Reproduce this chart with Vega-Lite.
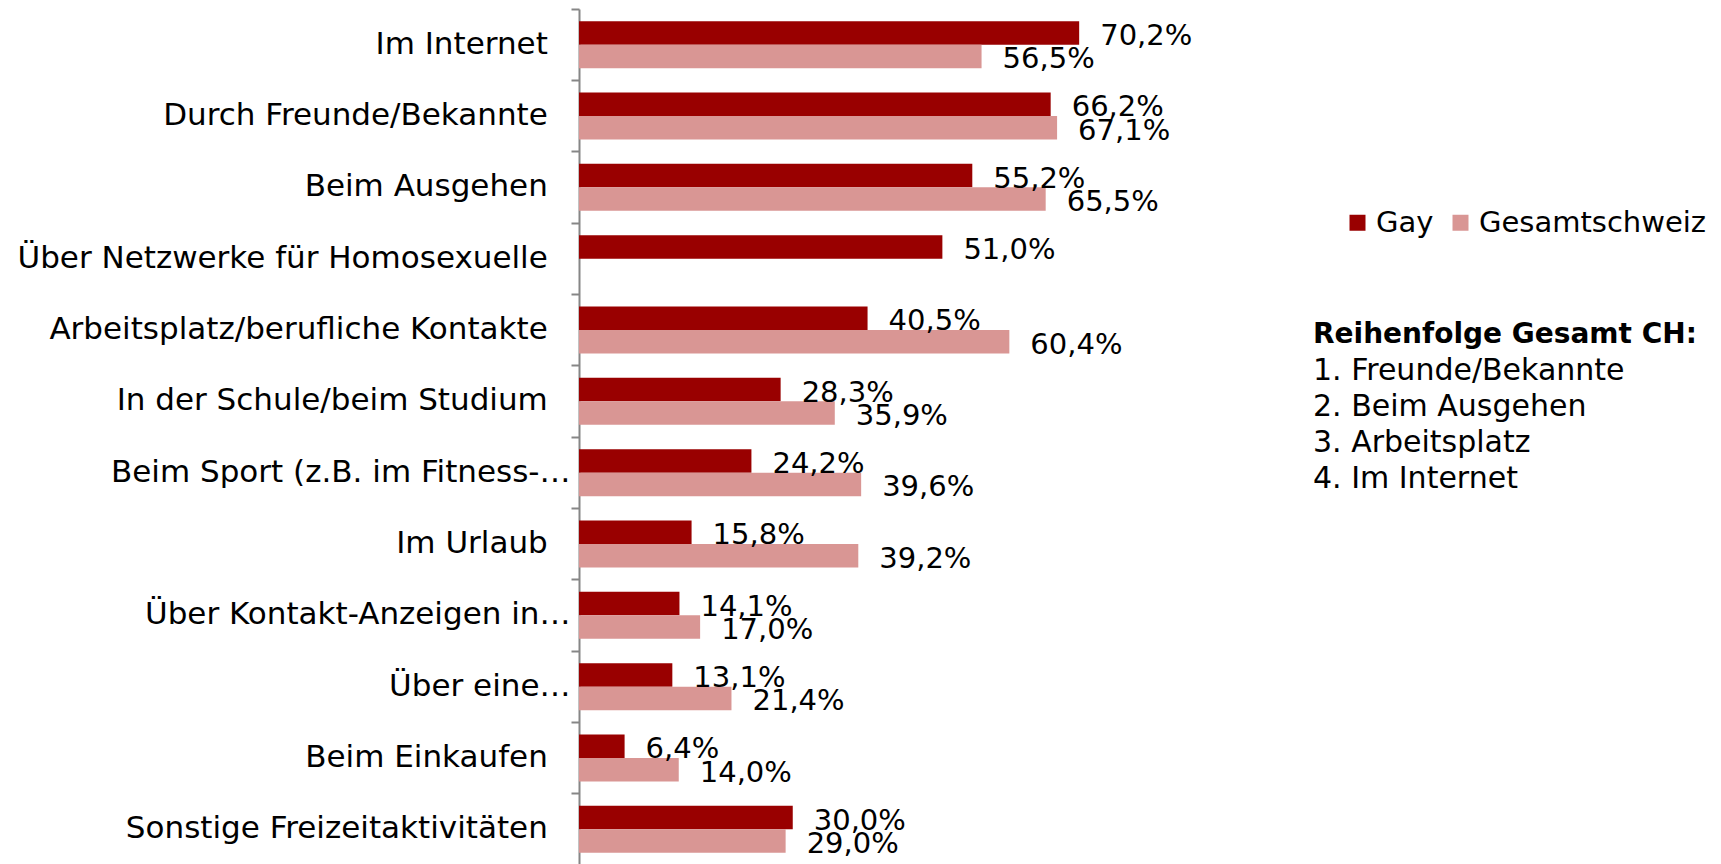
{
  "$schema": "https://vega.github.io/schema/vega-lite/v6.json",
  "padding": {"left": 16, "top": 8, "right": 0, "bottom": 0},
  "config": {
    "view": {"stroke": null},
    "font": "DejaVu Sans",
    "locale": {"number": {"decimal": ",", "thousands": ".", "grouping": [3], "currency": ["", ""]}}
  },
  "datasets": {
    "bars": [
      {"kategorie": "Im Internet", "gruppe": "Gay", "value": 0.702},
      {"kategorie": "Im Internet", "gruppe": "Gesamtschweiz", "value": 0.565},
      {"kategorie": "Durch Freunde/Bekannte", "gruppe": "Gay", "value": 0.662},
      {"kategorie": "Durch Freunde/Bekannte", "gruppe": "Gesamtschweiz", "value": 0.671},
      {"kategorie": "Beim Ausgehen", "gruppe": "Gay", "value": 0.552},
      {"kategorie": "Beim Ausgehen", "gruppe": "Gesamtschweiz", "value": 0.655},
      {"kategorie": "Über Netzwerke für Homosexuelle", "gruppe": "Gay", "value": 0.51},
      {"kategorie": "Arbeitsplatz/berufliche Kontakte", "gruppe": "Gay", "value": 0.405},
      {"kategorie": "Arbeitsplatz/berufliche Kontakte", "gruppe": "Gesamtschweiz", "value": 0.604},
      {"kategorie": "In der Schule/beim Studium", "gruppe": "Gay", "value": 0.283},
      {"kategorie": "In der Schule/beim Studium", "gruppe": "Gesamtschweiz", "value": 0.359},
      {"kategorie": "Beim Sport (z.B. im Fitness-\u2026", "gruppe": "Gay", "value": 0.242},
      {"kategorie": "Beim Sport (z.B. im Fitness-\u2026", "gruppe": "Gesamtschweiz", "value": 0.396},
      {"kategorie": "Im Urlaub", "gruppe": "Gay", "value": 0.158},
      {"kategorie": "Im Urlaub", "gruppe": "Gesamtschweiz", "value": 0.392},
      {"kategorie": "Über Kontakt-Anzeigen in\u2026", "gruppe": "Gay", "value": 0.141},
      {"kategorie": "Über Kontakt-Anzeigen in\u2026", "gruppe": "Gesamtschweiz", "value": 0.17},
      {"kategorie": "Über eine\u2026", "gruppe": "Gay", "value": 0.131},
      {"kategorie": "Über eine\u2026", "gruppe": "Gesamtschweiz", "value": 0.214},
      {"kategorie": "Beim Einkaufen", "gruppe": "Gay", "value": 0.064},
      {"kategorie": "Beim Einkaufen", "gruppe": "Gesamtschweiz", "value": 0.14},
      {"kategorie": "Sonstige Freizeitaktivitäten", "gruppe": "Gay", "value": 0.30},
      {"kategorie": "Sonstige Freizeitaktivitäten", "gruppe": "Gesamtschweiz", "value": 0.29}
    ],
    "ranking": [
      {"zeile": 0, "text": "Reihenfolge Gesamt CH:"},
      {"zeile": 1, "text": "1. Freunde/Bekannte"},
      {"zeile": 2, "text": "2. Beim Ausgehen"},
      {"zeile": 3, "text": "3. Arbeitsplatz"},
      {"zeile": 4, "text": "4. Im Internet"}
    ]
  },
  "spacing": 164,
  "bounds": "flush",
  "resolve": {"scale": {"y": "independent"}},
  "hconcat": [
    {
      "width": 570,
      "height": 856,
      "data": {"name": "bars"},
      "encoding": {
        "y": {
          "field": "kategorie",
          "type": "nominal",
          "sort": null,
          "scale": {"paddingInner": 0.34, "paddingOuter": 0.17},
          "axis": {
            "title": null,
            "grid": false,
            "labelFont": "DejaVu Sans",
            "labelFontSize": 31,
            "labelColor": "black",
            "labelLimit": 800,
            "labelPadding": 1,
            "labelExpr": "indexof(datum.label, '\u2026') >= 0 ? datum.label : datum.label + '\u2800'",
            "tickSize": 8,
            "tickWidth": 2,
            "tickColor": "#868686",
            "bandPosition": -0.257,
            "domainColor": "#868686",
            "domainWidth": 2
          }
        },
        "yOffset": {
          "field": "gruppe",
          "type": "nominal",
          "sort": ["Gay", "Gesamtschweiz"],
          "scale": {"paddingInner": 0, "paddingOuter": 0}
        },
        "x": {
          "field": "value",
          "type": "quantitative",
          "scale": {"domain": [0, 0.8], "nice": false},
          "axis": null
        }
      },
      "layer": [
        {
          "mark": {"type": "bar"},
          "encoding": {
            "color": {
              "field": "gruppe",
              "type": "nominal",
              "scale": {"domain": ["Gay", "Gesamtschweiz"], "range": ["#990000", "#D99694"]},
              "legend": {
                "title": null,
                "orient": "none",
                "direction": "horizontal",
                "legendX": 764,
                "legendY": 199,
                "padding": 0,
                "symbolType": "square",
                "symbolSize": 256,
                "symbolStrokeWidth": 0,
                "symbolOpacity": 1,
                "labelFont": "DejaVu Sans",
                "labelFontSize": 29,
                "labelColor": "black",
                "labelLimit": 400,
                "labelOffset": 4,
                "columnPadding": 12
              }
            }
          }
        },
        {
          "mark": {"type": "text", "align": "left", "baseline": "middle", "dx": 21, "dy": 3, "fontSize": 29, "color": "black"},
          "encoding": {
            "text": {"field": "value", "type": "quantitative", "format": ".1%"}
          }
        }
      ]
    },
    {
      "width": 400,
      "height": 856,
      "data": {"name": "ranking"},
      "encoding": {
        "y": {
          "field": "zeile",
          "type": "ordinal",
          "scale": {"type": "point", "range": [326, 470], "padding": 0},
          "axis": null
        },
        "x": {"value": 0},
        "text": {"field": "text", "type": "nominal"}
      },
      "layer": [
        {
          "transform": [{"filter": "datum.zeile == 0"}],
          "mark": {"type": "text", "align": "left", "baseline": "middle", "fontSize": 28, "fontWeight": "bold", "color": "black"}
        },
        {
          "transform": [{"filter": "datum.zeile > 0"}],
          "mark": {"type": "text", "align": "left", "baseline": "middle", "fontSize": 30, "color": "black"}
        }
      ]
    }
  ]
}
